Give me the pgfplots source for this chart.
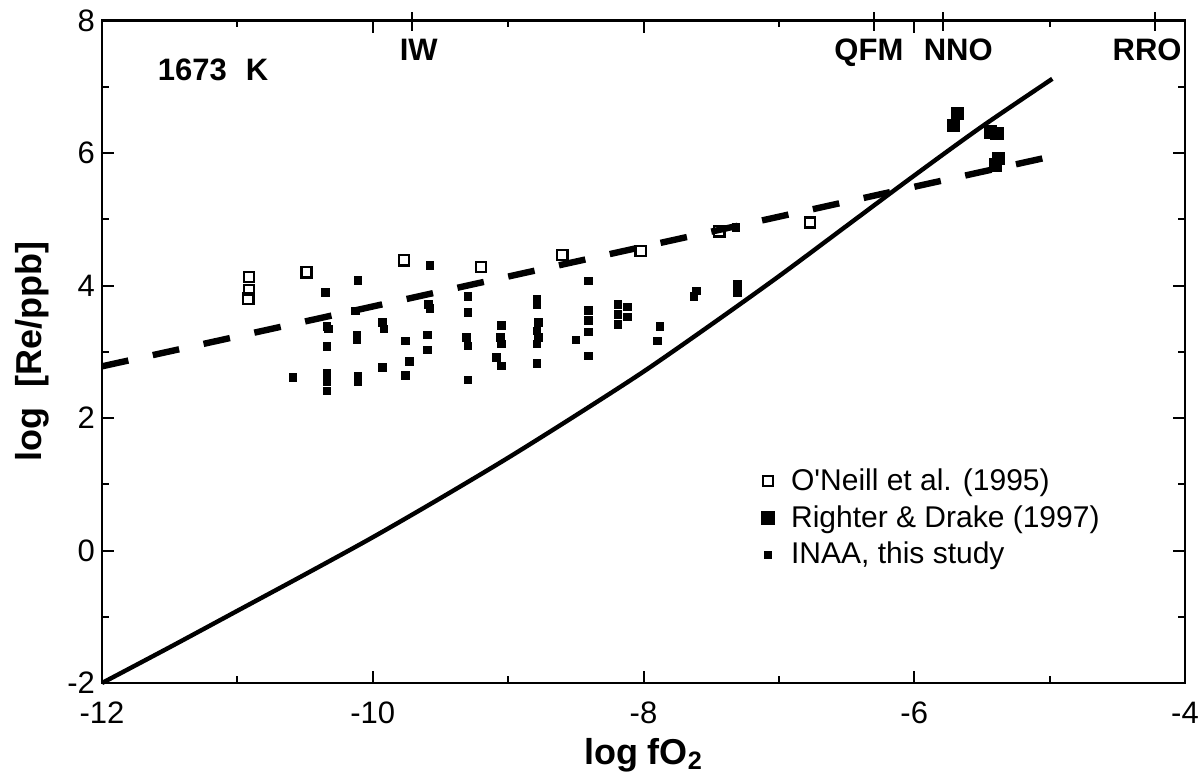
\documentclass[border=0pt]{standalone}
\usepackage{fontspec}
\setmainfont{Liberation Sans}
\usepackage{pgfplots}
\pgfplotsset{compat=1.18}
\begin{document}
\begin{tikzpicture}
\begin{axis}[
  name=ax,
  scale only axis,
  width=541.5pt, height=331.25pt,
  xmin=-12, xmax=-4, ymin=-2, ymax=8,
  xtick={-12,-10,...,-4}, ytick={-2,0,...,8},
  minor x tick num=1, minor y tick num=1,
  tick align=inside,
  major tick length=6.2pt, minor tick length=3.3pt,
  tick style={black, line width=1pt},
  axis line style={line width=1.3pt},
  /pgf/number format/assume math mode=true,
  ticklabel style={font=\fontsize{15.5}{18}\selectfont},
  xticklabel style={yshift=-6pt},
  every axis x label/.style={at={(rel axis cs:0.5,0)}, anchor=base, yshift=-40.5pt},
  every axis y label/.style={at={(rel axis cs:0,0.5)}, xshift=-30pt, rotate=90, anchor=base},
  label style={font=\fontsize{18}{20}\selectfont\bfseries},
  xlabel={log fO\textsubscript{2}},
  ylabel={log\ \ [Re/ppb]},
  clip=false,
  legend cell align=left,
  legend image code/.code={\draw[#1] plot coordinates {(0pt,0pt)};},
  legend style={draw=none, fill=none, at={(axis cs:-7.13,1.24)}, anchor=north west,
    font=\fontsize{15}{17}\selectfont, row sep=6.0pt, column sep=8.5pt,
    inner sep=0pt, nodes={inner sep=0pt}},
]
% solid curve
\addplot[forget plot, line width=2.2pt, smooth] coordinates {
(-12,-2) (-11.5,-1.46) (-11,-0.91) (-10.5,-0.36) (-10,0.2) (-9.5,0.79) (-9,1.4)
(-8.5,2.04) (-8,2.7) (-7.5,3.41) (-7,4.14) (-6.5,4.9) (-6,5.66) (-5.5,6.40) (-4.98,7.12)};
% dashed line
\addplot[forget plot, line width=3.2pt, dash pattern=on 13.5pt off 12.5pt] coordinates {(-12,2.78) (-4.96,5.96)};
% O'Neill et al. (1995)
\addplot[only marks, mark=square, mark size=2.55pt, mark options={line width=1.25pt, fill=white}] coordinates {
(-10.915,4.13) (-10.915,3.93) (-10.92,3.80) (-10.49,4.20) (-9.77,4.38) (-9.20,4.28)
(-8.60,4.46) (-8.02,4.52) (-7.44,4.82) (-6.77,4.95)};
\addlegendentry{O\textquotesingle Neill et al. (1995)}
% Righter & Drake (1997)
\addplot[only marks, mark=square*, mark size=3.1pt, mark options={line width=0.3pt, fill=black}] coordinates {
(-5.68,6.60) (-5.71,6.42) (-5.44,6.32) (-5.39,6.30) (-5.38,5.92) (-5.40,5.82)};
\addlegendentry{Righter \& Drake (1997)}
% INAA, this study
\addplot[only marks, mark=square*, mark size=1.9pt, mark options={line width=0.2pt, fill=black}] coordinates {
(-9.58,4.31) (-10.11,4.08) (-10.35,3.90) (-10.13,3.62) (-9.59,3.72) (-9.58,3.66)
(-9.30,3.84) (-9.30,3.60) (-10.34,3.39) (-10.33,3.35) (-10.12,3.25) (-10.12,3.19)
(-9.93,3.45) (-9.92,3.35) (-10.34,3.08) (-9.76,3.17) (-9.60,3.26) (-9.60,3.03)
(-9.31,3.22) (-9.30,3.09) (-9.06,3.22) (-9.09,2.92) (-10.59,2.62) (-10.34,2.68)
(-10.34,2.56) (-10.34,2.41) (-10.11,2.64) (-10.11,2.55) (-9.93,2.77) (-9.73,2.86)
(-9.76,2.65) (-9.30,2.58) (-9.05,3.40) (-9.05,3.12) (-9.05,2.79) (-8.79,3.80)
(-8.79,3.72) (-8.78,3.45) (-8.79,3.32) (-8.78,3.22) (-8.79,3.12) (-8.79,2.83)
(-8.50,3.18) (-8.41,4.07) (-8.41,3.63) (-8.41,3.48) (-8.41,3.30) (-8.41,2.94)
(-8.19,3.72) (-8.19,3.57) (-8.19,3.42) (-8.12,3.68) (-8.12,3.53) (-7.88,3.39)
(-7.90,3.17) (-7.61,3.92) (-7.63,3.84) (-7.31,4.02) (-7.31,3.90) (-7.32,4.88)};
\addlegendentry{INAA, this study}
% buffer ticks and labels
\draw[line width=1pt] (axis cs:-9.71,8) ++(0pt,4pt) -- ++(0pt,-9.5pt);
\draw[line width=1pt] (axis cs:-6.30,8) ++(0pt,4pt) -- ++(0pt,-9.5pt);
\draw[line width=1pt] (axis cs:-5.79,8) ++(0pt,4pt) -- ++(0pt,-9.5pt);
\draw[line width=1pt] (axis cs:-4.22,8) ++(0pt,4pt) -- ++(0pt,-9.5pt);
\node[anchor=base, font=\fontsize{15.5}{18}\selectfont\bfseries] at (axis cs:-9.66,7.40) {IW};
\node[anchor=base, font=\fontsize{15.5}{18}\selectfont\bfseries] at (axis cs:-6.335,7.40) {QFM};
\node[anchor=base, font=\fontsize{15.5}{18}\selectfont\bfseries] at (axis cs:-5.675,7.40) {NNO};
\node[anchor=base, font=\fontsize{15.5}{18}\selectfont\bfseries] at (axis cs:-4.28,7.40) {RRO};
\node[anchor=base west, inner xsep=0pt, font=\fontsize{15.5}{18}\selectfont\bfseries] at (axis cs:-11.59,7.10) {1673\hspace{9.5pt}K};
\end{axis}
\pgfresetboundingbox
\path ([xshift=-51pt,yshift=-45.5pt]ax.south west) rectangle ([xshift=6.5pt,yshift=10.25pt]ax.north east);
\end{tikzpicture}
\end{document}
